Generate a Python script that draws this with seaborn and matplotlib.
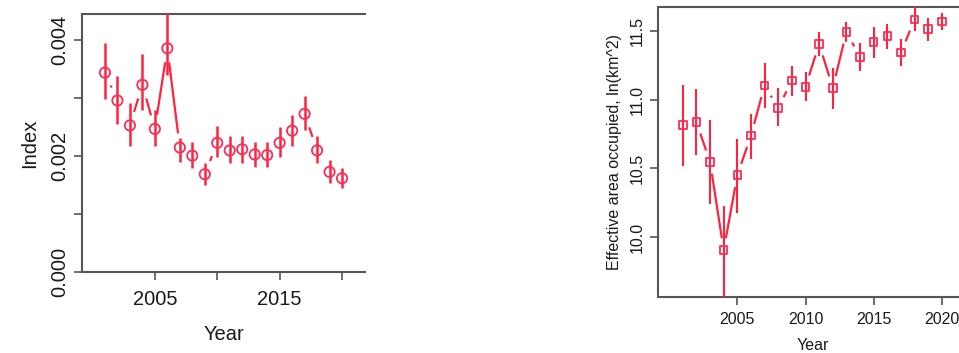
import numpy as np
import pandas as pd
import matplotlib
matplotlib.use("Agg")
import matplotlib.pyplot as plt
import seaborn as sns

sns.set_theme(style="white")
plt.rcParams["font.family"] = ["Liberation Sans", "DejaVu Sans"]
plt.rcParams["text.color"] = "#1a1a1a"
plt.rcParams["axes.labelcolor"] = "#1a1a1a"
plt.rcParams["xtick.labelcolor"] = "#1a1a1a"
plt.rcParams["ytick.labelcolor"] = "#1a1a1a"

# ---- data ----
years = list(range(2001, 2021))

index_est = [0.00343, 0.00295, 0.00252, 0.00322, 0.00246, 0.00385, 0.00214, 0.00200,
             0.00168, 0.00222, 0.00209, 0.00211, 0.00202, 0.00201, 0.00222, 0.00243,
             0.00272, 0.00209, 0.00172, 0.00161]
index_lo = [0.00298, 0.00255, 0.00217, 0.00279, 0.00216, 0.00339, 0.00189, 0.00178,
            0.00150, 0.00198, 0.00187, 0.00188, 0.00180, 0.00180, 0.00198, 0.00217,
            0.00244, 0.00187, 0.00153, 0.00144]
index_hi = [0.00394, 0.00337, 0.00290, 0.00375, 0.00279, 0.00450, 0.00230, 0.00224,
            0.00187, 0.00251, 0.00233, 0.00234, 0.00224, 0.00224, 0.00249, 0.00270,
            0.00303, 0.00233, 0.00193, 0.00178]

area_est = [10.816, 10.836, 10.548, 9.907, 10.451, 10.739, 11.102, 10.940, 11.138, 11.092,
            11.404, 11.085, 11.491, 11.310, 11.416, 11.460, 11.343, 11.581, 11.513, 11.568]
area_lo = [10.516, 10.596, 10.245, 9.540, 10.178, 10.569, 10.940, 10.806, 11.029, 10.988,
           11.314, 10.935, 11.416, 11.206, 11.302, 11.368, 11.242, 11.496, 11.423, 11.508]
area_hi = [11.109, 11.077, 10.850, 10.226, 10.715, 10.898, 11.266, 11.085, 11.247, 11.198,
           11.491, 11.230, 11.561, 11.411, 11.525, 11.552, 11.440, 11.690, 11.593, 11.629]

left_yticks = [0.000, 0.001, 0.002, 0.003, 0.004]
left_yticklabels = ["0.000", "", "0.002", "", "0.004"]
left_xticks = [2005, 2010, 2015, 2020]
left_xticklabels = ["2005", "", "2015", ""]
right_yticks = [10.0, 10.5, 11.0, 11.5]
right_yticklabels = ["10.0", "10.5", "11.0", "11.5"]
right_xticks = [2005, 2010, 2015, 2020]
right_xticklabels = ["2005", "2010", "2015", "2020"]

RED = "#ff2340"
MARK = "#ff2b55"
AXCOL = "#555555"

df_index = pd.DataFrame({"Year": years, "est": index_est, "lo": index_lo, "hi": index_hi})
df_area = pd.DataFrame({"Year": years, "est": area_est, "lo": area_lo, "hi": area_hi})

fig = plt.figure(figsize=(9.59, 3.53), dpi=100)
ax1 = fig.add_axes([0.0855, 0.2303, 0.2951, 0.7300])
ax2 = fig.add_axes([0.6858, 0.1595, 0.3225, 0.8198])


def draw_panel(ax, df, marker, msize, gap, lw_bar):
    # connecting line, broken around each point ("b"-style)
    sns.lineplot(data=df, x="Year", y="est", ax=ax, color=RED, lw=1.6,
                 zorder=1.5, legend=False)
    sns.scatterplot(data=df, x="Year", y="est", ax=ax, s=gap, color="white",
                    edgecolor="none", zorder=2, legend=False)
    ax.vlines(df["Year"], df["lo"], df["hi"], color=RED, lw=lw_bar, zorder=3)
    sns.scatterplot(data=df, x="Year", y="est", ax=ax, marker=marker, s=msize,
                    facecolor="none", edgecolor=MARK, linewidth=1.3, zorder=4,
                    legend=False)


draw_panel(ax1, df_index, "o", 55, 420, 1.8)
draw_panel(ax2, df_area, "s", 30, 300, 1.5)

for ax in (ax1, ax2):
    ax.set_xlim(1999.16, 2021.84)
    ax.set_facecolor("white")
    for side in ("left", "top", "bottom"):
        ax.spines[side].set_color(AXCOL)
        ax.spines[side].set_linewidth(1.5)
        ax.spines[side].set_zorder(2.5)
    ax.spines["right"].set_visible(False)
    ax.tick_params(axis="both", which="both", direction="out", length=6, width=1.2,
                   color=AXCOL, left=True, bottom=True, pad=3)

# left panel
ax1.set_ylim(0, 0.00444)
ax1.set_yticks(left_yticks)
ax1.set_yticklabels(left_yticklabels, rotation=90, va="center", fontsize=14.5)
ax1.set_xticks(left_xticks)
ax1.set_xticklabels(left_xticklabels, fontsize=14.5)
ax1.tick_params(axis="x", pad=7)
ax1.set_xlabel("Year", fontsize=14.5, labelpad=12)
ax1.set_ylabel("Index", fontsize=14.5, labelpad=8)

# right panel
ax2.set_ylim(9.569, 11.67)
ax2.set_yticks(right_yticks)
ax2.set_yticklabels(right_yticklabels, rotation=90, va="center", fontsize=11.5)
ax2.set_xticks(right_xticks)
ax2.set_xticklabels(right_xticklabels, fontsize=11.5)
ax2.tick_params(axis="x", pad=5)
ax2.set_xlabel("Year", fontsize=11.5, labelpad=8)
ax2.set_ylabel("Effective area occupied, ln(km^2)", fontsize=11.5, labelpad=6)

fig.savefig("out.png", dpi=100, facecolor="white")
